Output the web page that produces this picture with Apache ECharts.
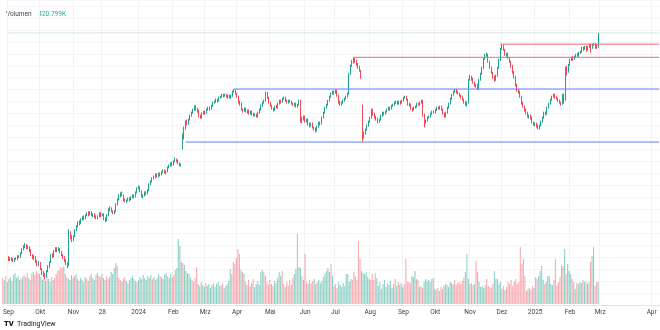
<!DOCTYPE html>
<html><head><meta charset="utf-8">
<script src="https://cdn.jsdelivr.net/npm/echarts@6/dist/echarts.min.js"></script>
<style>html,body{margin:0;padding:0;background:#fff}#c{width:660px;height:330px}</style>
</head><body><div id="c"></div>
<script>
// ---- data ----
const firstDay = [2023, 8, 1];   // 2023-09-01
const slotCount = 431;           // trading-day slots incl. empty future area
// daily candles: [open, close, low, high]
const ohlc = [
[72,69,68,73],[69,71,68,72],[71,70,68,72],[70,68,67,71],[68,70,67,71],[70,70.5,69,72],[70,73,69,74],[73,72,71,74],[72,76,71,77],[76,80,75,81],
[80,83,79,84],[83,84,81,86],[84,81,80,85],[81,82,80,84],[82,79,77,83],[79,74,73,80],[74,71,70,75],[71,72,69,74],[72,68,66,73],[68,65,63,69],
[65,66,63,68],[66,60,59,67],[60,56,54,61],[56,54,52,58],[54,53,50,56],[53,58,52,59],[58,62,57,64],[62,67,61,68],[67,74,66,75],[74,73,71,76],
[73,78,72,79],[78,81,77,82],[81,79,77,82],[79,80,78,82],[80,77,76,81],[77,74,73,78],[74,72,70,75],[72,69,67,73],[69,66,64,70],[66,63,61,67],
[64,97,63,100],[97,92,90,98],[92,89,87,94],[89,93,88,94],[93,99,92,100],[99,103,98,104],[103,107,102,108],[107,106,104,109],[106,110,105,111],[110,112,109,113],
[112,111,109,114],[111,114,110,115],[114,116,113,117],[116,115,113,118],[115,117,114,118],[117,114,113,118],[114,115,112,116],[115,113,111,116],[113,111,110,114],[111,113,110,114],
[113,116,112,117],[116,114,112,117],[114,115,113,116],[115,111,109,116],[111,109,107,112],[109,114,108,115],[114,120,113,121],[120,121,118,123],[121,118,117,122],[118,116,115,119],
[116,118,115,119],[118,125,117,126],[125,130,124,131],[130,134,129,135],[134,136,132,137],[136,134,133,138],[134,130,128,135],[130,128,127,131],[128,129,126,130],[129,131,128,132],
[131,130,128,132],[130,132,129,133],[132,134,131,135],[134,133,131,135],[133,137,132,138],[137,141,136,142],[141,142,140,144],[142,138,137,143],[138,133,132,139],[133,134,131,135],
[134,137,133,138],[137,136,134,138],[136,139,135,140],[139,145,138,146],[145,148,144,149],[148,151,147,152],[151,152,150,154],[152,155,151,156],[155,153,152,156],[153,156,152,157],
[156,155,153,157],[155,157,154,158],[157,159,156,160],[159,157,156,160],[157,158,155,159],[158,162,157,163],[162,164,161,165],[164,166,163,167],[166,165,163,168],[165,168,164,169],
[168,170,167,172],[170,169,167,171],[169,166,165,170],[166,164,163,167],[164,165,163,166],[181,194,180,196],[194,201,190,203],[201,208,200,209],[208,206,204,210],[206,210,205,211],
[210,214,209,215],[214,217,213,218],[217,220,216,221],[220,223,219,224],[223,221,219,225],[221,219,217,222],[219,214,212,220],[214,212,211,215],[212,216,211,217],[216,218,215,219],
[218,217,215,219],[217,220,216,221],[220,222,219,223],[222,221,219,223],[221,224,220,225],[224,227,223,228],[227,228,226,229],[228,230,227,231],[230,229,227,231],[229,232,228,233],
[232,233,231,234],[233,235,232,236],[235,234,232,236],[234,235,233,236],[235,233,232,236],[233,234,231,235],[234,232,231,235],[232,234,231,235],[234,238,233,239],[238,239,237,240.7],
[239,236,235,240],[236,233,232,237],[233,228,226,234],[228,226,224,229],[226,220,219,227],[220,219,217,221],[219,221,218,222],[221,218,217,222],[218,219,216,220],[219,216,215,220],
[216,218,215,219],[218,216,214,219],[216,214,213,217],[214,215,213,216],[215,213,212,216],[213,217,212,218],[217,220,216,221],[220,224,219,225],[224,227,223,228],[227,229,226,230],
[229,237,228,238],[237,232,231,238],[232,227,226,233],[227,224,223,228],[224,221,220,225],[221,220,218,222],[220,223,219,224],[223,222,221,225],[222,226,221,227],[226,229,225,230],
[229,228,226,230],[228,231,227,232],[231,232,230,233],[232,229,228,233],[229,227,226,230],[227,229,226,230],[229,228,227,230],[228,226,225,229],[226,225,224,227],[225,226,223,227],
[226,223,222,227],[223,225,222,226],[225,229,224,230],[229,209,207,230],[209,212,206,213],[212,213,209,214],[213,209,207,214],[209,210,207,211],[210,205,204,211],[205,204,202,207],
[204,206,203,207],[206,202,201,207],[202,201,199,203],[201,199,197,202],[199,203,198,204],[203,207,202,208],[207,206,204,208],[206,212,205,213],[212,217,211,218],[217,222,216,223],
[222,225,221,226],[225,229,224,230],[229,233,228,234],[233,236,232,237],[236,238,235,239],[238,237,235,239],[237,239,236,240],[239,234,233,240],[234,228,226,235],[228,225,224,229],
[225,227,224,228],[227,229,226,230],[229,231,228,232],[231,233,230,234],[233,236,232,237],[236,256,235,257],[256,264,255,265],[264,268,263,270],[268,271,266,272.5],[271,269,267,272],
[269,266,264,270],[266,263,261,267],[263,259,258,264],[259,253,251,260],[206,193,188,225],[192,197,191,198],[197,200,195,201],[200,204,199,205],[204,208,203,209],[208,212,207,213],
[212,220,211,221],[220,216,214,221],[216,213,211,217],[213,211,209,214],[211,208,206,212],[208,210,207,211],[210,214,209,215],[214,217,213,218],[217,216,214,218],[216,218,215,219],
[218,220,217,221],[220,222,219,223],[222,221,219,223],[221,224,220,225],[224,225,223,226],[225,227,224,228],[227,228,226,229],[228,226,225,229],[226,228,225,229],[228,227,225,229],
[227,229,226,230],[229,232,228,233],[232,233,231,234],[233,230,229,234],[230,226,224,231],[226,225,223,227],[225,221,220,226],[221,220,218,222],[220,222,219,223],[222,223,221,224],
[223,226,222,227],[226,225,224,227],[225,227,224,228],[227,229,226,230],[229,215,213,230],[215,207,202,216],[207,209,206,210],[209,212,208,213],[212,213,211,214],[213,216,212,217],
[216,218,215,219],[218,217,216,219],[217,220,216,221],[220,222,219,223],[222,221,220,223],[221,223,220,224],[223,220,219,224],[220,216,215,221],[216,213,212,217],[213,217,212,218],
[217,222,216,223],[222,226,221,227],[226,231,225,232],[231,235,230,236],[235,238,234,239],[238,240,237,241],[240,238,236,241],[238,236,235,239],[236,234,233,237],[234,233,231,235],
[233,230,229,234],[230,228,226,231],[228,225,224,229],[225,227,223,228],[227,250,226,251],[250,253,249,255],[253,251,249,254],[251,247,246,252],[247,244,243,248],[244,245,242,246],
[245,241,240,246],[241,250,240,251],[250,256,249,257],[256,262,255,263],[262,271,261,272],[271,274,270,276],[274,275,273,277],[275,268,267,276],[268,262,261,269],[262,257,256,263],
[257,253,251,258],[253,250,248,254],[250,254,249,255],[254,262,253,263],[262,270,261,271],[270,281,269,282],[281,284,280,285.7],[284,280,279,285],[280,275,274,281],[275,276,273,277],
[276,272,271,277],[272,268,267,273],[268,264,262,269],[264,258,256,265],[258,253,251,259],[253,245,243,254],[245,240,238,246],[240,238,236,241],[238,233,232,239],[233,227,225,234],
[227,223,222,228],[223,220,218,224],[220,216,215,221],[216,213,212,218],[213,214,211,215],[214,212,210,215],[212,207,206,213],[207,205,204,208],[205,206,203,207],[206,203,202,207],
[203,201,200,205],[201,204,200,205],[204,208,203,209],[208,212,207,213],[212,217,211,218],[217,216,214,218],[216,222,215,223],[222,226,221,227],[226,230,225,231],[230,233,229,234],
[233,235,232,236],[235,233,231,236],[233,231,230,234],[231,229,228,232],[229,227,226,230],[227,226,224,228],[226,235,225,236],[235,228,226,236],[230,262,229,263],[262,258,254,264],
[258,265,257,266],[265,270,264,271],[270,272,269,273],[272,271,269,274],[271,273,270,274],[273,275,272,276],[275,274,273,277],[274,277,273,278],[277,278,276,279],[278,282,277,283],
[282,281,279,283],[281,283,280,284],[283,280,278,284],[280,283,279,284],[283,285,282,286],[285,282,277,286],[282,285,281,286],[285,286,284,287],[286,283,281,287],[284,283,281,286],
[283,296,282,297]
];
// daily volume in thousands
const volume = [
497,459,536,421,478,517,440,555,593,497,536,459,478,
517,555,517,593,497,459,574,612,555,631,593,574,517,
459,497,440,536,478,421,517,459,497,574,631,650,708,689,727,
574,517,478,459,555,497,536,574,478,440,497,459,421,517,478,440,536,574,497,459,
555,593,536,517,574,497,459,536,478,517,612,574,689,784,727,
497,459,421,478,517,440,402,459,497,536,478,440,421,459,517,478,555,497,459,536,
497,555,478,517,459,497,574,536,517,478,555,593,536,497,574,517,555,650,689,
1243,1110,803,784,746,631,593,574,497,459,421,497,708,
383,344,421,363,325,402,
344,383,306,363,402,325,383,421,344,363,402,306,344,383,440,670,
574,803,765,880,1052,957,650,612,574,
421,363,459,344,402,478,325,383,440,363,
612,650,612,536,
421,363,459,383,344,440,
402,497,612,536,631,
383,325,421,344,459,363,
497,574,670,1339,708,689,536,459,957,
421,383,459,402,440,478,383,421,459,402,440,
517,574,631,689,612,765,536,
344,383,306,421,363,325,402,344,
574,574,421,478,459,612,536,459,1205,861,
631,593,574,612,517,478,459,574,459,593,497,
344,421,287,383,459,325,402,363,440,306,383,478,344,421,363,402,325,
383,861,421,421,402,536,517,631,478,459,
325,344,306,421,478,440,459,421,478,497,
287,268,306,249,325,287,
344,383,363,325,421,402,383,459,363,402,421,383,440,497,
612,957,478,383,402,363,383,823,612,421,
325,344,306,363,478,344,325,306,383,631,478,478,383,421,
287,344,268,325,421,383,459,344,421,478,383,421,
1090,765,861,536,249,287,306,268,344,306,517,478,
536,631,727,459,383,421,536,536,383,363,459,861,
344,421,517,727,727,1052,574,765,631,574,478,421,
287,402,383,421,402,459,421,440,383,421,803,918,1090,344,421,420.799
];
// time-scale tick labels: [date, label]
const tickLabels = [
['2023-09-01','Sep'],['2023-10-02','Okt'],['2023-11-01','Nov'],['2023-11-28','28'],['2024-01-01','2024'],
['2024-02-01','Feb'],['2024-03-01','Mrz'],['2024-04-01','Apr'],['2024-05-01','Mai'],['2024-06-03','Jun'],
['2024-07-01','Jul'],['2024-08-01','Aug'],['2024-09-02','Sep'],['2024-10-01','Okt'],['2024-11-01','Nov'],
['2024-12-02','Dez'],['2025-01-01','2025'],['2025-02-03','Feb'],['2025-03-03','Mrz'],['2025-04-18','Apr']
];
// horizontal rays: [start bar index, price]
const supportRays = [[117,187.5],[149,240.7]];
const resistanceRays = [[228,272.5],[325,285.7]];
const topLine = 297;
const volumeLegend = '420.799K';

// ---- build ----
const dates = [];
const d = new Date(Date.UTC(firstDay[0], firstDay[1], firstDay[2]));
while (dates.length < slotCount) {
  const w = d.getUTCDay();
  if (w !== 0 && w !== 6) dates.push(d.toISOString().slice(0, 10));
  d.setUTCDate(d.getUTCDate() + 1);
}
const tickMap = new Map(tickLabels.map(([dt, l]) => [dates.indexOf(dt), l]));
const UP = '#089981', DOWN = '#f23645';
const volData = volume.map((v, i) => ({
  value: v,
  itemStyle: { color: ohlc[i][1] >= ohlc[i][0] ? 'rgba(8,153,129,0.45)' : 'rgba(242,54,69,0.42)' }
}));
const last = slotCount - 1;
function raySeries(start, price, color, z) {
  return {
    type: 'line', xAxisIndex: 0, yAxisIndex: 0, silent: true, z: z,
    symbol: 'none', animation: false,
    lineStyle: { color: color, width: 1, type: 'solid' },
    data: [[start, price], [last, price]]
  };
}
const rays = [];
supportRays.forEach(([s, p]) => rays.push(raySeries(s, p, '#5f7fff', 4)));
resistanceRays.forEach(([s, p]) => rays.push(raySeries(s, p, '#f5666e', 4)));
rays.push(raySeries(0, topLine, '#d3e6e1', 2));

const chart = echarts.init(document.getElementById('c'), null, { renderer: 'canvas' });
chart.setOption({
  animation: false,
  backgroundColor: '#ffffff',
  grid: [
    { left: 2, right: 0, top: 0, bottom: 25 },
    { left: 2, right: 0, bottom: 26, height: 100 }
  ],
  xAxis: [
    {
      type: 'category', data: dates, gridIndex: 0, boundaryGap: true,
      axisLine: { show: true, lineStyle: { color: '#e0e3eb', width: 1 } },
      axisTick: { show: false },
      axisLabel: {
        interval: (i) => tickMap.has(i),
        formatter: (v, i) => tickMap.get(i) || '',
        fontSize: 6.5, color: '#3b3f4a', margin: 4, fontFamily: 'Roboto, sans-serif'
      },
      splitLine: { show: true, interval: (i) => tickMap.has(i), lineStyle: { color: '#f1f3f7', width: 1 } }
    },
    { type: 'category', data: dates, gridIndex: 1, show: false }
  ],
  yAxis: [
    {
      type: 'value', gridIndex: 0, min: 24, max: 330, interval: 12, position: 'right',
      axisLine: { show: false }, axisTick: { show: false }, axisLabel: { show: false },
      splitLine: { show: true, lineStyle: { color: '#f4f5f8', width: 1 } }
    },
    { type: 'value', gridIndex: 1, min: 0, max: 1913, show: false, splitLine: { show: false } }
  ],
  series: [
    {
      type: 'bar', xAxisIndex: 1, yAxisIndex: 1, data: volData, barWidth: '72%', silent: true, z: 1
    },
    {
      type: 'candlestick', xAxisIndex: 0, yAxisIndex: 0, data: ohlc, barWidth: 0.8, z: 3,
      itemStyle: { color: UP, color0: DOWN, borderColor: UP, borderColor0: DOWN, borderWidth: 0.9 }
    }
  ].concat(rays),
  graphic: [
    { type: 'text', left: 6, top: 8, style: {
      text: '{a|Volumen}  {b|' + volumeLegend + '}',
      rich: { a: { fill: '#3b3f4a', fontSize: 6.5, fontFamily: 'Roboto, sans-serif' }, b: { fill: '#22ab94', fontSize: 6.5, fontFamily: 'Roboto, sans-serif' } }
    } },
    { type: 'text', left: 4, top: 318, style: {
      text: '{l|TV} {t|TradingView}',
      rich: { l: { fill: '#131722', fontSize: 7.5, fontWeight: 900, fontFamily: 'Roboto, sans-serif' }, t: { fill: '#131722', fontSize: 7, fontFamily: 'Roboto, sans-serif' } }
    } }
  ]
});
</script></body></html>
